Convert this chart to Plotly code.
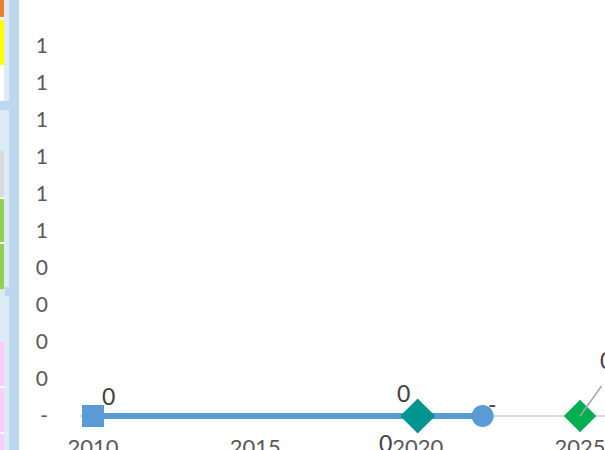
import plotly.graph_objects as go

# ---- data ----
years = [2010, 2020, 2022, 2025]
values = [0, 0, 0, 0]
point_labels = ["0", "0", "-", "0"]
marker_symbols = ["square", "diamond", "circle", "diamond"]
marker_colors = ["#5B9BD5", "#00958F", "#5B9BD5", "#00B050"]
line_years = [2010, 2020, 2022]
line_values = [0, 0, 0]
y_tickvals = [0, 0.1, 0.2, 0.3, 0.4, 0.5, 0.6, 0.7, 0.8, 0.9, 1.0]
y_ticktext = ["-", "0", "0", "0", "0", "1", "1", "1", "1", "1", "1"]
x_tickvals = [2010, 2015, 2020, 2025]
x_ticktext = ["2010", "2015", "2020", "2025"]

W, H = 605, 450
L, B = 80, 24
PW, PH = W - L, H - B
ZERO_PX = 416      # pixel row of value 0
UNIT_PX = 370      # pixels per 1.0

def px(x):
    return (x - L) / PW

def py(y):
    return (PH - y) / PH

fig = go.Figure()
fig.add_trace(go.Scatter(x=line_years, y=line_values, mode="lines",
                         line=dict(color="#5B9BD5", width=6),
                         cliponaxis=False, hoverinfo="skip", showlegend=False))
sizes = [22, 27, 22, 25]
fig.add_trace(go.Scatter(x=years, y=values, mode="markers",
                         marker=dict(symbol=marker_symbols, color=marker_colors,
                                     size=sizes, opacity=1, line=dict(width=0)),
                         cliponaxis=False, showlegend=False))

FONT = "Lato, Open Sans, sans-serif"
font_lbl = dict(family=FONT, size=23, color="#404040")
offsets = [(15, 20), (-14, 23), (10, 12), (26, 56)]
for xv, yv, t, (dx, dy) in zip(years, values, point_labels, offsets):
    fig.add_annotation(x=xv, y=yv, text=t, showarrow=False, xshift=dx, yshift=dy,
                       font=font_lbl)
# leader line for last point
fig.add_annotation(x=years[3], y=values[3], text=" ", showarrow=True,
                   arrowhead=0, arrowwidth=1.5, arrowcolor="#A6A6A6",
                   ax=23, ay=-32, standoff=0, font=dict(size=1))
# stray label under 2020
fig.add_annotation(x=years[1], y=values[1], text="0", showarrow=False,
                   xshift=-32, yshift=-27, font=font_lbl)

# ---- spreadsheet decoration at left edge ----
shapes = []
def rect(x0, y0, x1, y1, color):
    shapes.append(dict(type="rect", xref="paper", yref="paper",
                       x0=px(x0), x1=px(x1), y0=py(y1), y1=py(y0),
                       fillcolor=color, line=dict(width=0), layer="below"))
rect(0, 0, 9, 450, "#DDEBF7")
rect(9, 0, 19, 450, "#BDD7EE")
rect(0, 0, 4, 17, "#ED7D31")
rect(0, 17, 4, 20, "#FFFFFF")
rect(0, 20, 4, 65, "#FFFF00")
rect(0, 65, 4, 101, "#FFFFFF")
rect(0, 101, 19, 110, "#BDD7EE")
rect(0, 151, 4, 197, "#D9D9D9")
rect(0, 197, 4, 199, "#FFFFFF")
rect(0, 199, 4, 242, "#92D050")
rect(0, 242, 4, 244, "#FFFFFF")
rect(0, 244, 4, 289, "#92D050")
rect(5, 287, 19, 296, "#BDD7EE")
rect(0, 341, 4, 386, "#FFCCFF")
rect(0, 386, 4, 388, "#FFFFFF")
rect(0, 388, 4, 432, "#FFCCFF")
rect(0, 432, 4, 434, "#FFFFFF")
rect(0, 434, 4, 450, "#FFCCFF")

x0 = 2010 - 13 / 32.47
x1 = 2010 + (PW - 13) / 32.47
y0 = -(PH - ZERO_PX) / UNIT_PX
y1 = ZERO_PX / UNIT_PX
fig.update_layout(
    width=W, height=H,
    margin=dict(l=L, r=0, t=0, b=B, pad=0),
    paper_bgcolor="white", plot_bgcolor="white",
    shapes=shapes,
    xaxis=dict(range=[x0, x1], tickvals=x_tickvals, ticktext=x_ticktext,
               showgrid=False, zeroline=False, showline=False, ticks="",
               ticklabelstandoff=6, automargin=False, ticklabeloverflow="allow",
               tickfont=dict(family=FONT, size=22, color="#595959")),
    yaxis=dict(range=[y0, y1], tickvals=y_tickvals, ticktext=y_ticktext,
               showgrid=False, zeroline=True, zerolinecolor="#D9D9D9", zerolinewidth=1.5,
               showline=False, ticks="", ticklabelstandoff=31, automargin=False,
               ticklabeloverflow="allow",
               tickfont=dict(family=FONT, size=21, color="#595959")),
)
fig.write_html("out.html", config={"displayModeBar": False},
               post_script="document.body.style.margin='0';document.body.style.overflow='hidden';")
